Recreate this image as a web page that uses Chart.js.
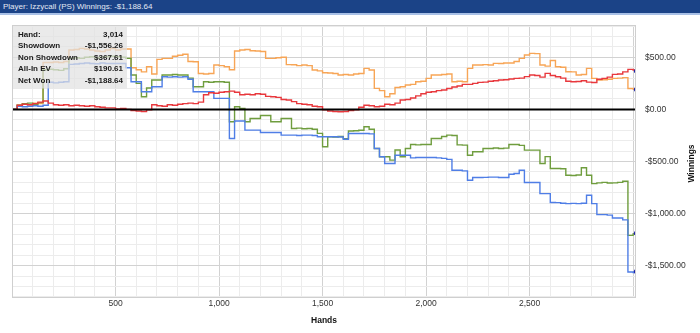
<!DOCTYPE html>
<html><head><meta charset="utf-8">
<script src="https://cdn.jsdelivr.net/npm/chart.js@4.4.1/dist/chart.umd.min.js"></script>
<style>
html,body{margin:0;padding:0;background:#fff;width:700px;height:333px;overflow:hidden;}
#bar{position:absolute;left:0;top:0;width:697px;height:13px;background:#1b4387;border-bottom:2px solid #a8c0e6;color:#e2e8f3;font:8px "Liberation Sans",Arial,sans-serif;line-height:13px;padding-left:3px;white-space:pre;}
#wrap{position:absolute;top:15px;left:0;width:700px;height:318px;}
</style></head><body>
<div id="bar">Player: Izzycall (PS) Winnings: -$1,188.64</div>
<div id="wrap"><canvas id="c" width="700" height="318"></canvas></div>
<script>
const hands = [
0,25,50,75,100,125,150,175,200,225,
250,275,300,325,350,375,400,425,450,475,
500,525,550,575,600,625,650,675,700,725,
750,775,800,825,850,875,900,925,950,975,
1000,1025,1050,1075,1100,1125,1150,1175,1200,1225,
1250,1275,1300,1325,1350,1375,1400,1425,1450,1475,
1500,1525,1550,1575,1600,1625,1650,1675,1700,1725,
1750,1775,1800,1825,1850,1875,1900,1925,1950,1975,
2000,2025,2050,2075,2100,2125,2150,2175,2200,2225,
2250,2275,2300,2325,2350,2375,2400,2425,2450,2475,
2500,2525,2550,2575,2600,2625,2650,2675,2700,2725,
2750,2775,2800,2825,2850,2875,2900,2925,2950,2975,
3000,3014];

const nonShowdown = [
0,40,50,45,55,70,80,60,45,40,
45,35,40,35,30,35,25,20,15,15,
5,10,0,-10,-15,-20,-5,45,35,30,
45,40,50,55,60,55,70,140,160,155,
165,170,175,165,140,145,140,150,145,125,
121,115,95,90,75,55,50,45,30,25,
-5,-15,-20,-22,-20,-10,-5,20,40,35,
25,30,50,45,60,90,95,110,130,150,
165,170,180,186,200,215,225,240,240,250,
259,262,270,275,282,285,292,298,300,315,
330,325,310,346,325,314,300,270,266,268,
275,262,258,290,298,310,336,340,360,384,
378,367.61];

const allInEV = [
0,40,55,45,60,55,450,450,455,450,
460,570,575,586,580,570,560,555,570,585,
570,580,580,400,380,360,410,340,480,490,
490,510,520,530,460,458,345,340,345,426,
420,410,380,560,570,575,563,560,555,490,
490,495,500,430,428,420,426,420,378,370,
352,350,345,330,335,330,340,345,394,378,
202,180,121,150,210,218,234,240,266,270,
298,330,330,335,340,266,270,266,394,426,
426,430,426,442,440,445,445,460,490,522,
538,535,426,415,470,410,405,362,360,330,
335,394,298,282,285,290,298,300,305,200,
195,190.61];

const netWon = [
0,40,55,60,50,65,380,385,380,375,
390,490,495,490,500,505,495,500,505,510,
505,500,490,330,250,121,205,282,282,330,
330,335,330,330,300,218,218,266,260,266,
266,260,-119,25,10,-119,-87,-87,-58,-58,
-119,-119,-87,-87,-183,-180,-185,-183,-190,-230,
-359,-263,-265,-260,-280,-208,-205,-200,-167,-190,
-375,-455,-455,-487,-390,-455,-375,-337,-340,-337,
-337,-279,-279,-260,-247,-250,-340,-343,-440,-407,
-407,-375,-375,-370,-375,-372,-337,-337,-345,-391,
-391,-391,-519,-453,-567,-567,-570,-632,-635,-630,
-560,-632,-712,-705,-700,-706,-705,-700,-690,-1209,
-1195,-1188.64];

const showdown = [
0,30,25,30,35,30,40,260,255,260,
265,432,435,440,445,440,438,445,440,440,
440,440,400,266,266,170,170,218,218,313,
310,313,310,313,290,170,170,170,170,106,
106,106,-279,-112,-112,-199,-199,-199,-222,-222,
-222,-222,-247,-247,-247,-250,-247,-247,-250,-263,
-263,-263,-263,-265,-286,-231,-231,-231,-231,-235,
-375,-455,-519,-519,-440,-440,-440,-465,-462,-462,
-462,-462,-465,-470,-480,-584,-584,-590,-680,-654,
-654,-652,-650,-650,-654,-654,-622,-615,-584,-702,
-702,-702,-808,-808,-894,-895,-900,-904,-902,-904,
-900,-824,-904,-1010,-1010,-1015,-1042,-1042,-1060,-1561,
-1565,-1556.26];

const xTicks = [500, 1000, 1500, 2000, 2500];
const yTicks = [500, 0, -500, -1000, -1500];
const infoLabels = ['Hand:', 'Showdown', 'Non Showdown', 'All-In EV', 'Net Won'];
const infoValues = ['3,014', '-$1,556.26', '$367.61', '$190.61', '-$1,188.64'];

const FONT = '"Liberation Sans", Arial, sans-serif';
const xGrid = []; for (let v = 100; v <= 3000; v += 100) xGrid.push(v);
const yGrid = []; for (let v = -1800; v <= 800; v += 100) yGrid.push(v);

function money(v){ return (v < 0 ? '-' : '') + '$' + Math.abs(v).toLocaleString('en-US',{minimumFractionDigits:2, maximumFractionDigits:2}); }

function ds(label, data, color){
  return {
    label, data: data.map((v,i)=>({x:hands[i], y:v})),
    borderColor: color, borderWidth: 1.4, stepped: true, fill: false,
    pointRadius: c => c.dataIndex === data.length-1 ? 2.2 : 0,
    pointHoverRadius: 0, pointBackgroundColor: '#1c22a8', pointBorderWidth: 0
  };
}

const gridColor = c => (c.tick && Math.abs(c.tick.value % 500) < 1e-6) ? '#d2d2d2' : '#ececec';

const overlay = {
  id: 'overlay',
  afterDatasetsDraw(chart){
    const {ctx, chartArea:a, scales:{y}} = chart;
    ctx.save();
    const y0 = y.getPixelForValue(0);
    ctx.strokeStyle = '#000'; ctx.lineWidth = 2;
    ctx.beginPath(); ctx.moveTo(a.left, y0); ctx.lineTo(a.right, y0); ctx.stroke();
    ctx.strokeStyle = '#cfcfcf'; ctx.lineWidth = 1;
    ctx.strokeRect(a.left + 0.5, a.top + 0.5, a.width - 1, a.height - 1);
    ctx.fillStyle = 'rgba(226,226,226,0.72)';
    ctx.fillRect(a.left + 1, a.top + 1.5, 114, 62);
    ctx.fillStyle = '#1a1a1a';
    ctx.font = 'bold 8px ' + FONT;
    ctx.textBaseline = 'middle';
    for (let i = 0; i < infoLabels.length; i++){
      const ty = a.top + 9.5 + i * 11.55;
      ctx.textAlign = 'left'; ctx.fillText(infoLabels[i], a.left + 6, ty);
      ctx.textAlign = 'right'; ctx.fillText(infoValues[i], a.left + 111, ty);
    }
    ctx.fillStyle = '#111';
    ctx.font = 'bold 8.5px ' + FONT;
    ctx.textAlign = 'center';
    ctx.fillText('Hands', (a.left + a.right) / 2, 306);
    ctx.translate(692, (a.top + a.bottom) / 2 + 2);
    ctx.rotate(-Math.PI / 2);
    ctx.fillText('Winnings', 0, 0);
    ctx.restore();
  }
};

new Chart(document.getElementById('c'), {
  type: 'line',
  data: { datasets: [
    ds('Non Showdown', nonShowdown, '#e8383d'),
    ds('Showdown', showdown, '#4f7ee6'),
    ds('Net Won', netWon, '#6f9d3e'),
    ds('All-In EV', allInEV, '#f7a556')
  ]},
  options: {
    responsive: false, animation: false, devicePixelRatio: 1,
    layout: { padding: { left: 12, top: 10, right: 0, bottom: 0 } },
    plugins: { legend: { display: false }, tooltip: { enabled: false }, title: { display: false } },
    scales: {
      x: {
        type: 'linear', min: 0, max: 3014, position: 'bottom',
        afterBuildTicks: s => { s.ticks = xGrid.map(v => ({value: v})); },
        afterFit: s => { s.height = 35; s.paddingLeft = 0; s.paddingRight = 0; },
        grid: { color: gridColor, lineWidth: 1, drawTicks: false },
        border: { display: false },
        ticks: { autoSkip: false, maxRotation: 0, padding: 1, color: '#333', font: {family: FONT, size: 8.5},
          callback: v => xTicks.includes(v) ? v.toLocaleString('en-US') : '' }
      },
      y: {
        type: 'linear', position: 'right', min: -1810, max: 810,
        afterBuildTicks: s => { s.ticks = yGrid.map(v => ({value: v})); },
        afterFit: s => { s.width = 64; s.paddingTop = 0; s.paddingBottom = 0; },
        grid: { color: gridColor, lineWidth: 1, drawTicks: false },
        border: { display: false },
        ticks: { autoSkip: false, padding: 9, color: '#333', font: {family: FONT, size: 8.5},
          callback: v => yTicks.includes(v) ? money(v) : '' }
      }
    }
  },
  plugins: [overlay]
});
</script></body></html>
